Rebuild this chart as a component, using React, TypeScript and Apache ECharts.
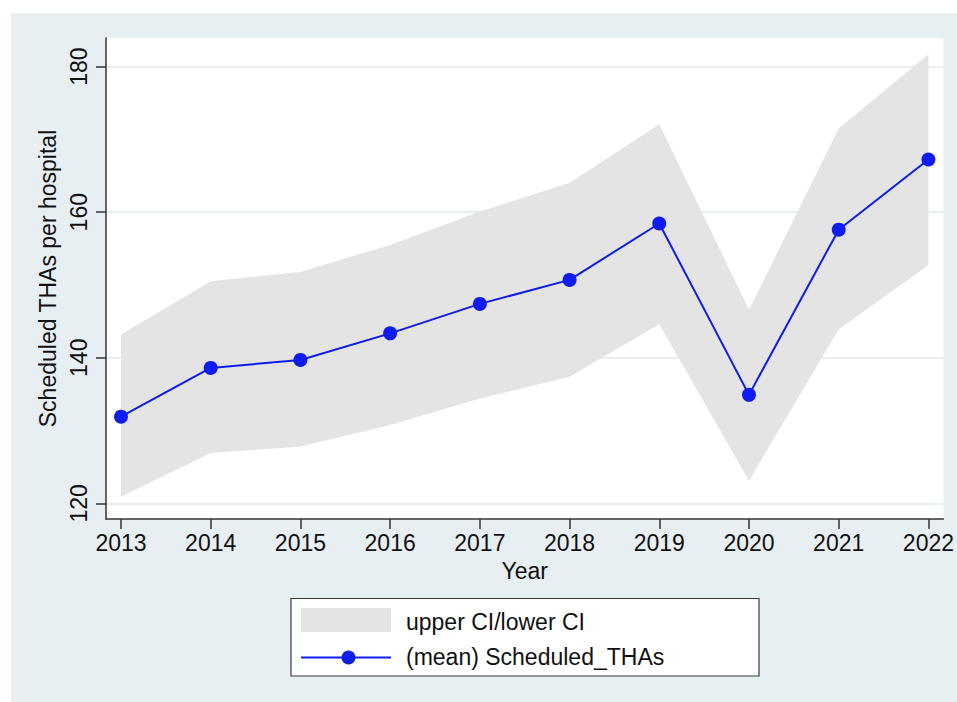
import React, { useEffect, useRef } from "react";
import * as echarts from "echarts";

const YEARS = [2013, 2014, 2015, 2016, 2017, 2018, 2019, 2020, 2021, 2022];
const MEAN_THAS = [131.9, 138.6, 139.7, 143.35, 147.4, 150.7, 158.45, 134.9, 157.6, 167.25];
const CI_UPPER = [143.2, 150.5, 151.8, 155.5, 160.1, 164.0, 172.1, 146.6, 171.5, 181.7];
const CI_LOWER = [120.9, 126.9, 127.8, 130.75, 134.4, 137.4, 144.6, 123.1, 143.9, 152.7];
const Y_TICKS = [120, 140, 160, 180];

const FONT = "'Liberation Sans', Arial, Helvetica, sans-serif";
const BLUE = "#0f1cf0";
const BAND = "#e4e4e4";
const REGION = "#e8eff2";
const GRIDLINE = "#e0eaef";
const AXIS = "#333333";

export default function App() {
  const ref = useRef<HTMLDivElement>(null);

  useEffect(() => {
    if (!ref.current) return;
    const chart = echarts.init(ref.current, null, { renderer: "svg" });
    const option: any = {
      animation: false,
      backgroundColor: "#ffffff",
      grid: {
        left: 106,
        right: 13,
        top: 38,
        bottom: 183,
        show: true,
        backgroundColor: "#ffffff",
        borderWidth: 0,
        containLabel: false,
      },
      xAxis: {
        type: "value",
        min: 2012.833,
        max: 2022.167,
        name: "Year",
        nameLocation: "middle",
        nameGap: 40,
        nameTextStyle: { fontSize: 23, color: "#111", fontFamily: FONT },
        axisLine: { show: true, onZero: false, lineStyle: { color: AXIS, width: 1.5 } },
        axisTick: { show: true, customValues: YEARS, length: 10, lineStyle: { color: AXIS, width: 1.5 } },
        axisLabel: {
          customValues: YEARS,
          formatter: (v: number) => String(v),
          fontSize: 23,
          color: "#111",
          fontFamily: FONT,
          margin: 12,
        },
        splitLine: { show: false },
      },
      yAxis: {
        type: "value",
        min: 117.84,
        max: 183.94,
        name: "Scheduled THAs per hospital",
        nameLocation: "middle",
        nameRotate: 90,
        nameGap: 42,
        nameTextStyle: { fontSize: 23, color: "#111", fontFamily: FONT },
        axisLine: { show: true, onZero: false, lineStyle: { color: AXIS, width: 1.5 } },
        axisTick: { show: true, customValues: Y_TICKS, length: 10, lineStyle: { color: AXIS, width: 1.5 } },
        axisLabel: {
          customValues: Y_TICKS,
          formatter: (v: number) => String(v),
          rotate: 90,
          fontSize: 23,
          color: "#111",
          fontFamily: FONT,
          margin: 16,
        },
        splitLine: { show: false },
      },
      graphic: [
        {
          type: "rect",
          z: -10,
          silent: true,
          shape: { x: 11, y: 13, width: 946, height: 689 },
          style: { fill: REGION },
        },
        {
          type: "group",
          z: 10,
          children: [
            {
              type: "rect",
              shape: { x: 291, y: 598.5, width: 468, height: 77.5 },
              style: { fill: "#ffffff", stroke: "#3a3a3a", lineWidth: 1.2 },
            },
            {
              type: "rect",
              shape: { x: 301, y: 608, width: 90, height: 24 },
              style: { fill: BAND },
            },
            {
              type: "text",
              x: 406,
              y: 622,
              style: {
                text: "upper CI/lower CI",
                fontSize: 23,
                fontFamily: FONT,
                fill: "#111",
                verticalAlign: "middle",
                align: "left",
              },
            },
            {
              type: "line",
              shape: { x1: 301, y1: 657.5, x2: 391, y2: 657.5 },
              style: { stroke: BLUE, lineWidth: 2 },
            },
            {
              type: "circle",
              shape: { cx: 348.5, cy: 657.5, r: 7 },
              style: { fill: BLUE },
            },
            {
              type: "text",
              x: 406,
              y: 656.5,
              style: {
                text: "(mean) Scheduled_THAs",
                fontSize: 23,
                fontFamily: FONT,
                fill: "#111",
                verticalAlign: "middle",
                align: "left",
              },
            },
          ],
        },
      ],
      series: [
        {
          type: "line",
          z: 0,
          silent: true,
          data: YEARS.map((y, i) => [y, MEAN_THAS[i]]),
          showSymbol: false,
          symbol: "none",
          lineStyle: { width: 0, opacity: 0 },
          markLine: {
            z: 0,
            silent: true,
            symbol: ["none", "none"],
            label: { show: false },
            lineStyle: { color: GRIDLINE, width: 1.5, type: "solid" },
            data: Y_TICKS.map((t) => ({ yAxis: t })),
          },
        },
        {
          type: "custom",
          z: 1,
          silent: true,
          data: YEARS.map((y, i) => [y, CI_LOWER[i], CI_UPPER[i]]),
          encode: { x: 0, y: [1, 2] },
          renderItem: (params: any, api: any) => {
            if (params.dataIndex !== 0) return null;
            const pts: number[][] = [];
            for (let i = 0; i < YEARS.length; i++) pts.push(api.coord([YEARS[i], CI_UPPER[i]]));
            for (let i = YEARS.length - 1; i >= 0; i--) pts.push(api.coord([YEARS[i], CI_LOWER[i]]));
            return { type: "polygon", shape: { points: pts }, style: { fill: BAND } };
          },
        },
        {
          type: "line",
          z: 2,
          name: "(mean) Scheduled_THAs",
          data: YEARS.map((y, i) => [y, MEAN_THAS[i]]),
          symbol: "circle",
          symbolSize: 14,
          lineStyle: { color: BLUE, width: 2 },
          itemStyle: { color: BLUE },
        },
      ],
    };
    chart.setOption(option);
    return () => chart.dispose();
  }, []);

  return (
    <div style={{ position: "fixed", left: 0, top: 0, width: 957, height: 702, background: "#fff" }}>
      <div ref={ref} style={{ width: 957, height: 702 }} />
    </div>
  );
}
